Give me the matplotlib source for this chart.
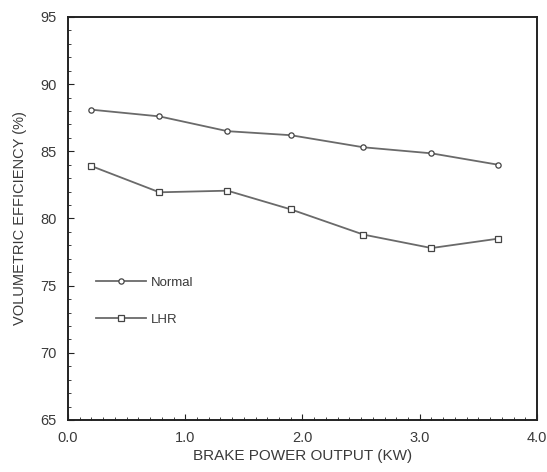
import matplotlib

matplotlib.use("Agg")
import matplotlib.pyplot as plt
from matplotlib.ticker import MultipleLocator, FormatStrFormatter

plt.rcParams["font.family"] = ["Liberation Sans", "DejaVu Sans"]

power = [0.2, 0.78, 1.36, 1.9, 2.52, 3.1, 3.67]
normal = [88.1, 87.6, 86.5, 86.2, 85.3, 84.85, 84.0]
lhr = [83.9, 81.95, 82.07, 80.68, 78.8, 77.8, 78.5]

LINE = "#6a6a6a"
TXT = "#3a3a3a"

fig = plt.figure(figsize=(5.47, 4.72), dpi=100)
ax = fig.add_axes([0.1243, 0.1102, 0.8574, 0.8538])

ax.plot(power, normal, color=LINE, lw=1.3, marker="o", ms=3.8,
        mfc="white", mec="#444444", mew=0.9, label="Normal")
ax.plot(power, lhr, color=LINE, lw=1.3, marker="s", ms=3.8,
        mfc="white", mec="#444444", mew=0.9, label="LHR")

ax.set_xlim(0, 4.0)
ax.set_ylim(65, 95)
ax.xaxis.set_major_locator(MultipleLocator(1.0))
ax.xaxis.set_minor_locator(MultipleLocator(0.1))
ax.xaxis.set_major_formatter(FormatStrFormatter("%.1f"))
ax.yaxis.set_major_locator(MultipleLocator(5))
ax.yaxis.set_minor_locator(MultipleLocator(1))

ax.tick_params(axis="both", which="both", direction="in", top=False, right=False,
               labelsize=10.5, labelcolor=TXT, color="#222222")
ax.tick_params(which="major", length=4, pad=8)
ax.tick_params(which="minor", length=2.5)

for s in ax.spines.values():
    s.set_color("#222222")
    s.set_linewidth(1.4)

ax.set_xlabel("BRAKE POWER OUTPUT (KW)", fontsize=11, color=TXT, labelpad=3)
ax.set_ylabel("VOLUMETRIC EFFICIENCY (%)", fontsize=10.5, color=TXT, labelpad=10)

ax.legend(loc="upper left", bbox_to_anchor=(0.035, 0.385), frameon=False,
          fontsize=9.5, labelspacing=1.85, handlelength=3.8, handletextpad=0.3,
          labelcolor=TXT)

fig.savefig("out.png", dpi=100)
